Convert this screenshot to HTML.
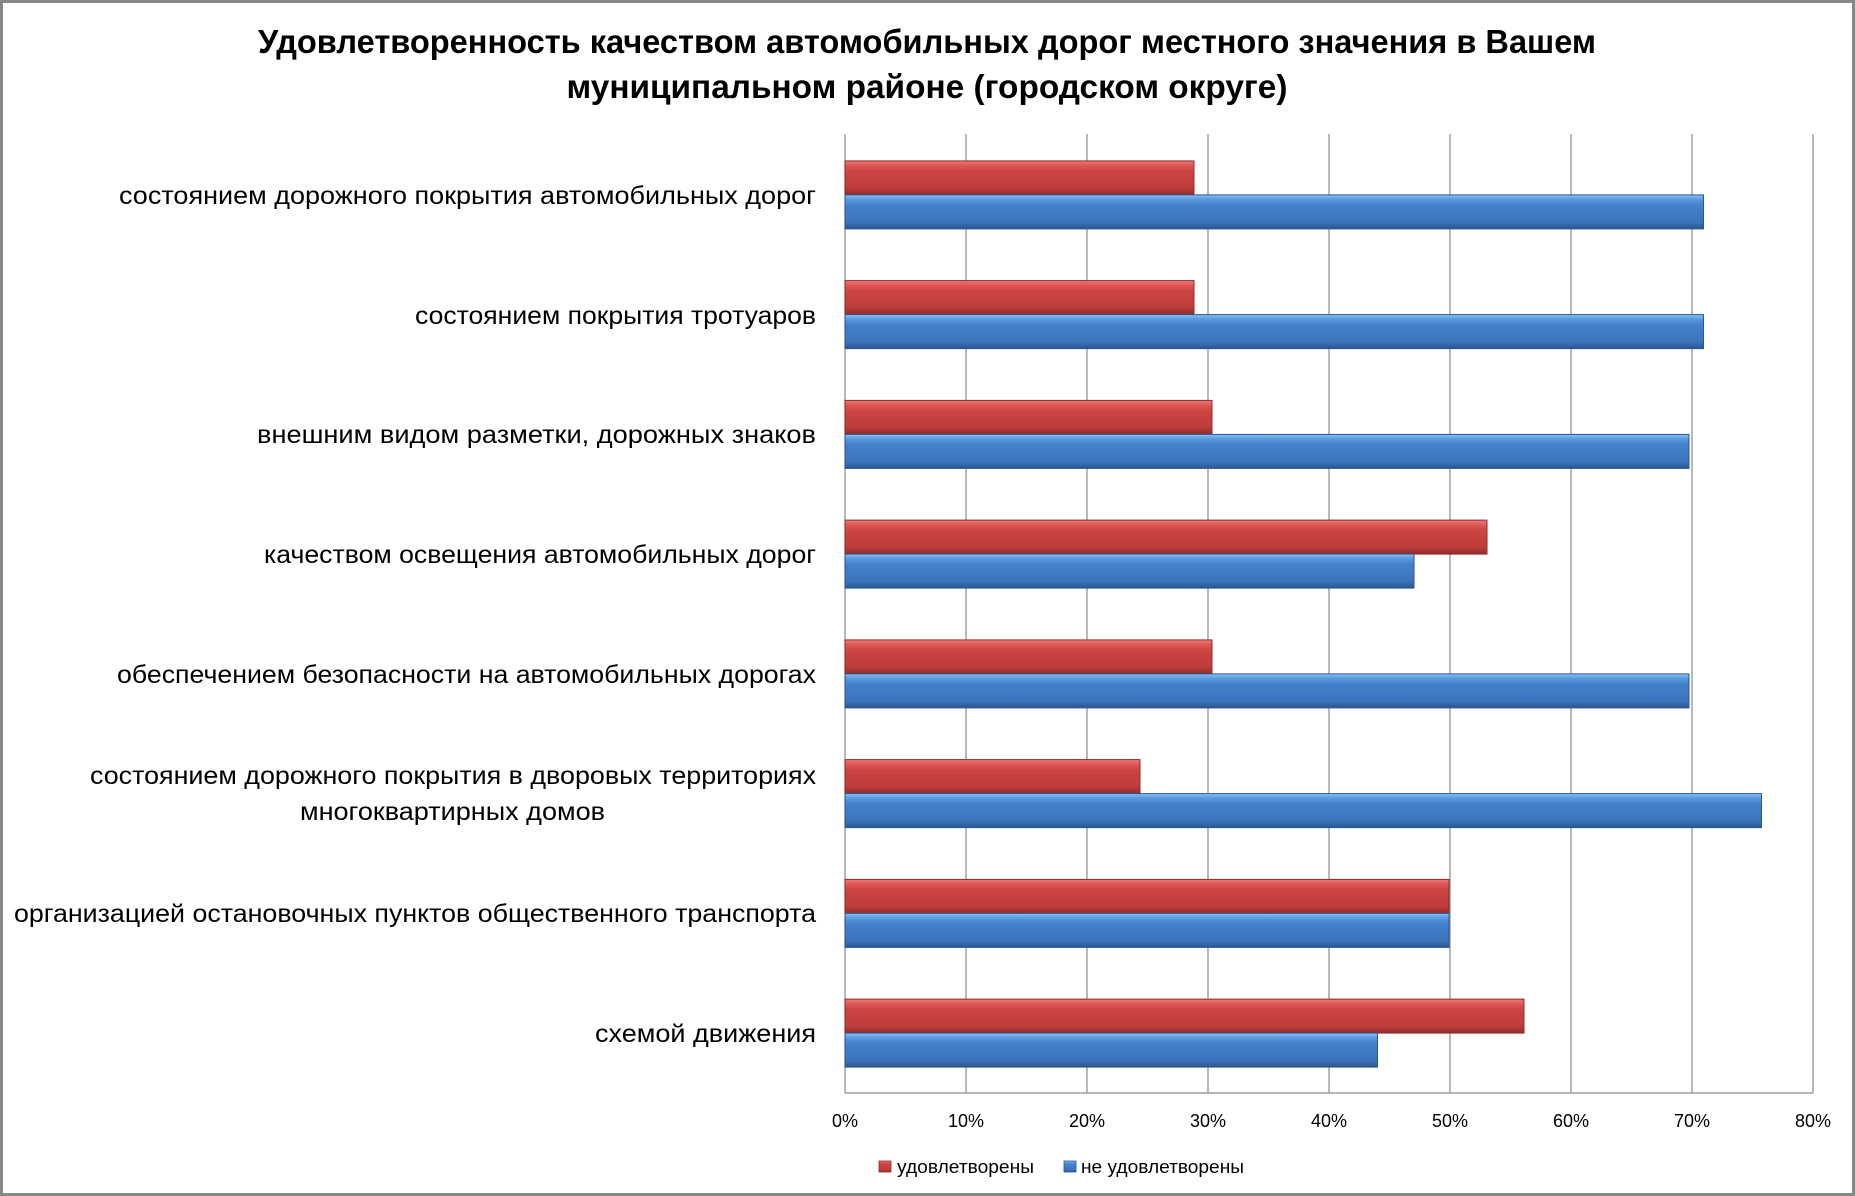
<!DOCTYPE html>
<html><head><meta charset="utf-8"><style>html,body{margin:0;padding:0;background:#fff}svg{display:block}</style></head>
<body>
<svg width="1855" height="1196" xmlns="http://www.w3.org/2000/svg" font-family="'Liberation Sans', sans-serif">
<defs>
<linearGradient id="r" x1="0" y1="0" x2="0" y2="1">
<stop offset="0" stop-color="#f07a78"/><stop offset="0.12" stop-color="#e05a58"/><stop offset="0.3" stop-color="#cc4542"/><stop offset="0.8" stop-color="#bd3c3a"/><stop offset="1" stop-color="#8e2c2b"/>
</linearGradient>
<linearGradient id="b" x1="0" y1="0" x2="0" y2="1">
<stop offset="0" stop-color="#8cc4f5"/><stop offset="0.12" stop-color="#5c9de0"/><stop offset="0.3" stop-color="#4480cc"/><stop offset="0.8" stop-color="#3c74bb"/><stop offset="1" stop-color="#2c5690"/>
</linearGradient>
</defs>
<rect x="1.5" y="1.5" width="1852" height="1193" fill="#fff" stroke="#878787" stroke-width="3"/>
<text x="927" y="53" text-anchor="middle" font-size="33" font-weight="bold" textLength="1338" lengthAdjust="spacingAndGlyphs">Удовлетворенность качеством автомобильных дорог местного значения в Вашем</text>
<text x="927" y="98" text-anchor="middle" font-size="33" font-weight="bold" textLength="721" lengthAdjust="spacingAndGlyphs">муниципальном районе (городском округе)</text>
<g stroke="#8a8a8a" stroke-width="1.2">
<line x1="845" y1="134" x2="845" y2="1093"/><line x1="966" y1="134" x2="966" y2="1093"/><line x1="1087" y1="134" x2="1087" y2="1093"/><line x1="1208" y1="134" x2="1208" y2="1093"/><line x1="1329" y1="134" x2="1329" y2="1093"/><line x1="1450" y1="134" x2="1450" y2="1093"/><line x1="1571" y1="134" x2="1571" y2="1093"/><line x1="1692" y1="134" x2="1692" y2="1093"/><line x1="1813" y1="134" x2="1813" y2="1093"/>
<line x1="845" y1="1093" x2="1813" y2="1093"/>
</g>
<g stroke-width="1">
<rect x="845" y="160.9" width="349" height="34" fill="url(#r)" stroke="#8e2c2b"/><rect x="845" y="194.9" width="858.5" height="34" fill="url(#b)" stroke="#2c5690"/>
<rect x="845" y="280.6" width="349" height="34" fill="url(#r)" stroke="#8e2c2b"/><rect x="845" y="314.6" width="858.5" height="34" fill="url(#b)" stroke="#2c5690"/>
<rect x="845" y="400.4" width="367" height="34" fill="url(#r)" stroke="#8e2c2b"/><rect x="845" y="434.4" width="844" height="34" fill="url(#b)" stroke="#2c5690"/>
<rect x="845" y="520.1" width="642" height="34" fill="url(#r)" stroke="#8e2c2b"/><rect x="845" y="554.1" width="569" height="34" fill="url(#b)" stroke="#2c5690"/>
<rect x="845" y="639.9" width="367" height="34" fill="url(#r)" stroke="#8e2c2b"/><rect x="845" y="673.9" width="844" height="34" fill="url(#b)" stroke="#2c5690"/>
<rect x="845" y="759.6" width="295" height="34" fill="url(#r)" stroke="#8e2c2b"/><rect x="845" y="793.6" width="916.5" height="34" fill="url(#b)" stroke="#2c5690"/>
<rect x="845" y="879.4" width="604" height="34" fill="url(#r)" stroke="#8e2c2b"/><rect x="845" y="913.4" width="604" height="34" fill="url(#b)" stroke="#2c5690"/>
<rect x="845" y="999.1" width="679" height="34" fill="url(#r)" stroke="#8e2c2b"/><rect x="845" y="1033.1" width="532.5" height="34" fill="url(#b)" stroke="#2c5690"/>
</g>
<g font-size="25" fill="#000" text-anchor="end">
<text x="816" y="204" textLength="697" lengthAdjust="spacingAndGlyphs">состоянием дорожного покрытия автомобильных дорог</text>
<text x="816" y="324" textLength="401" lengthAdjust="spacingAndGlyphs">состоянием покрытия тротуаров</text>
<text x="816" y="443" textLength="559" lengthAdjust="spacingAndGlyphs">внешним видом разметки, дорожных знаков</text>
<text x="816" y="563" textLength="552" lengthAdjust="spacingAndGlyphs">качеством освещения автомобильных дорог</text>
<text x="816" y="683" textLength="699" lengthAdjust="spacingAndGlyphs">обеспечением безопасности на автомобильных дорогах</text>
<text x="816" y="784" textLength="726" lengthAdjust="spacingAndGlyphs">состоянием дорожного покрытия в дворовых территориях</text>
<text x="605" y="820" textLength="305" lengthAdjust="spacingAndGlyphs">многоквартирных домов</text>
<text x="816" y="922" textLength="802" lengthAdjust="spacingAndGlyphs">организацией остановочных пунктов общественного транспорта</text>
<text x="816" y="1042" textLength="221" lengthAdjust="spacingAndGlyphs">схемой движения</text>
</g>
<g font-size="18" text-anchor="middle" fill="#000">
<text x="845" y="1127">0%</text><text x="966" y="1127">10%</text><text x="1087" y="1127">20%</text><text x="1208" y="1127">30%</text><text x="1329" y="1127">40%</text><text x="1450" y="1127">50%</text><text x="1571" y="1127">60%</text><text x="1692" y="1127">70%</text><text x="1813" y="1127">80%</text>
</g>
<rect x="879" y="1161" width="12" height="11" fill="url(#r)" stroke="#8e2c2b" stroke-width="0.8"/>
<text x="897" y="1173" font-size="18" textLength="137" lengthAdjust="spacingAndGlyphs">удовлетворены</text>
<rect x="1064" y="1161" width="12" height="11" fill="url(#b)" stroke="#2c5690" stroke-width="0.8"/>
<text x="1081" y="1173" font-size="18" textLength="163" lengthAdjust="spacingAndGlyphs">не удовлетворены</text>
</svg>
</body></html>
